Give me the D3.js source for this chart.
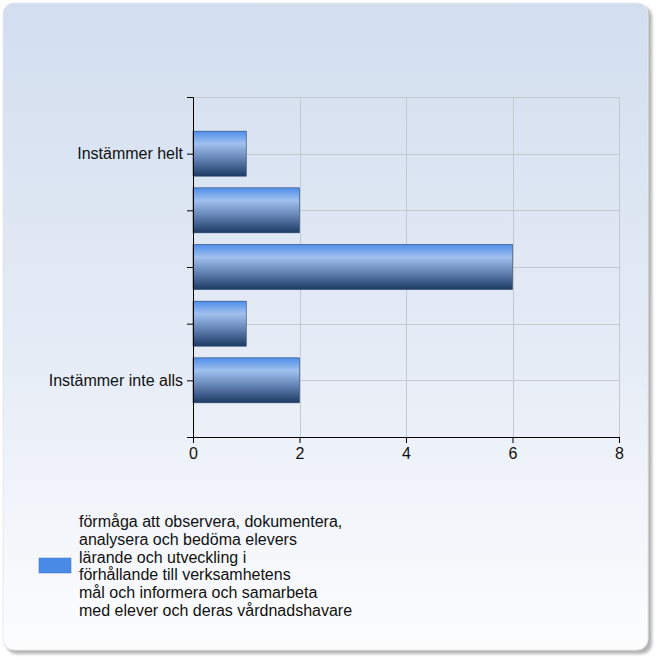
<!DOCTYPE html>
<html><head><meta charset="utf-8">
<script src="https://cdn.jsdelivr.net/npm/d3@7"></script>
<style>html,body{margin:0;padding:0;background:#fff;}svg{display:block;}</style>
</head><body>
<script>
const categories = ["Instämmer helt", "", "", "", "Instämmer inte alls"];
const values = [1, 2, 6, 1, 2];
const xTicks = [0, 2, 4, 6, 8];
const legendLines = [
  "förmåga att observera, dokumentera,",
  "analysera och bedöma elevers",
  "lärande och utveckling i",
  "förhållande till verksamhetens",
  "mål och informera och samarbeta",
  "med elever och deras vårdnadshavare"
];

(function(){
const W = 661, H = 661;
const FONT = "Liberation Sans, Arial, sans-serif";
const svg = d3.select("body").append("svg").attr("width", W).attr("height", H);
const defs = svg.append("defs");

const bg = defs.append("linearGradient").attr("id","bg").attr("x1",0).attr("y1",0).attr("x2",0).attr("y2",1);
bg.append("stop").attr("offset","0%").attr("stop-color","#d2deef");
bg.append("stop").attr("offset","55%").attr("stop-color","#e6ecf6");
bg.append("stop").attr("offset","100%").attr("stop-color","#fdfdfe");

const bar = defs.append("linearGradient").attr("id","bar").attr("x1",0).attr("y1",0).attr("x2",0).attr("y2",1);
bar.append("stop").attr("offset","0%").attr("stop-color","#4f8eea");
bar.append("stop").attr("offset","28%").attr("stop-color","#a0c0ee");
bar.append("stop").attr("offset","60%").attr("stop-color","#6787b8");
bar.append("stop").attr("offset","100%").attr("stop-color","#1d3a64");

const shadow = defs.append("filter").attr("id","sh").attr("x","-5%").attr("y","-5%").attr("width","110%").attr("height","110%");
shadow.append("feGaussianBlur").attr("stdDeviation",1.5);

svg.append("rect").attr("x",6).attr("y",6).attr("width",646).attr("height",648).attr("rx",11)
  .attr("fill","#b4b4b4").attr("filter","url(#sh)");
svg.append("rect").attr("x",3).attr("y",3).attr("width",645).attr("height",647).attr("rx",11)
  .attr("fill","url(#bg)").attr("stroke","#e4e8ee").attr("stroke-width",1);

const pL = 193, pR = 619, pT = 97, pB = 437;
const x = d3.scaleLinear().domain([0, 8]).range([pL, pR]);
const y = d3.scalePoint().domain(d3.range(categories.length)).range([pT, pB]).padding(1);
const bandH = 45;

const g = svg.append("g");
g.selectAll(".vg").data(xTicks.slice(1)).enter().append("line")
  .attr("x1", d => Math.round(x(d))+0.5).attr("x2", d => Math.round(x(d))+0.5).attr("y1", pT).attr("y2", pB)
  .attr("stroke","#c4c8cf").attr("stroke-width",1);
const hLines = [pT].concat(d3.range(categories.length).map(i => y(i)));
g.selectAll(".hg").data(hLines).enter().append("line")
  .attr("x1", pL).attr("x2", pR).attr("y1", d => Math.round(d)+0.5).attr("y2", d => Math.round(d)+0.5)
  .attr("stroke","#c4c8cf").attr("stroke-width",1);

g.selectAll(".bar").data(values).enter().append("rect")
  .attr("x", x(0)).attr("y", (d,i) => y(i) - bandH/2)
  .attr("width", d => x(d) - x(0)).attr("height", bandH)
  .attr("fill","url(#bar)").attr("stroke","#2a4670").attr("stroke-width",0.6);

const yAxis = d3.axisLeft(y).tickValues(d3.range(categories.length)).tickFormat(i => categories[i]).tickSize(6).tickSizeOuter(6);
const ya = svg.append("g").attr("transform", `translate(${pL},0)`).call(yAxis);
const xAxis = d3.axisBottom(x).tickValues(xTicks).tickSize(6).tickSizeOuter(0);
const xa = svg.append("g").attr("transform", `translate(0,${pB})`).call(xAxis);
[ya, xa].forEach(a => {
  a.selectAll("path").attr("stroke","#000");
  a.selectAll("line").attr("stroke","#000");
  a.selectAll("text").attr("font-family",FONT).attr("font-size",16).attr("fill","#111");
});
ya.selectAll("text").attr("x",-10);
xa.selectAll("text").attr("y",11);
svg.append("line").attr("x1", pL-6).attr("x2", pL).attr("y1", pB+0.5).attr("y2", pB+0.5).attr("stroke","#000");

svg.append("rect").attr("x",39).attr("y",558).attr("width",32).attr("height",15).attr("fill","#4a8be8").attr("stroke","#3a70c0").attr("stroke-width",0.5);
svg.append("g").selectAll("text").data(legendLines).enter().append("text")
  .attr("x",79).attr("y",(d,i) => 527 + i*17.8)
  .attr("font-family",FONT).attr("font-size",16).attr("fill","#111")
  .text(d => d);
})();
</script>
</body></html>
